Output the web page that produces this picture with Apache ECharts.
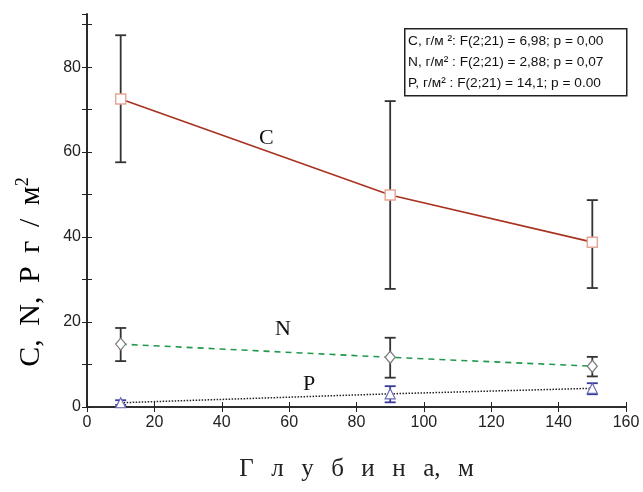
<!DOCTYPE html>
<html>
<head>
<meta charset="utf-8">
<script src="https://cdn.jsdelivr.net/npm/echarts@6/dist/echarts.min.js"></script>
<style>
  html, body { margin: 0; padding: 0; background: #fff; }
  #chart { width: 643px; height: 492px; }
</style>
</head>
<body>
<div id="chart"></div>
<script>
// depth, m
var depths = [10, 90, 150];

// C, N, P (g / m2): mean, lower and upper error bar ends
var cMean = [72.5, 49.9, 38.8];
var cLow = [57.6, 27.8, 28.0];
var cHigh = [87.5, 72.0, 48.7];

var nMean = [14.8, 11.7, 9.6];
var nLow = [10.8, 6.9, 7.2];
var nHigh = [18.6, 16.3, 11.8];

var pMean = [1.0, 3.1, 4.4];
var pLow = [0.5, 1.1, 3.0];
var pHigh = [1.6, 4.9, 5.6];

var yLabels = [0, 20, 40, 60, 80];

var legendLines = [
  'C, г/м ²: F(2;21) = 6,98; p = 0,00',
  'N, г/м² : F(2;21) = 2,88; p = 0,07',
  'P, г/м² : F(2;21) = 14,1; p = 0.00'
];

function pairs(xs, ys) {
  return xs.map(function (x, i) { return [x, ys[i]]; });
}
function bars(xs, lo, hi) {
  return xs.map(function (x, i) { return [x, lo[i], hi[i]]; });
}

function errorBar(color) {
  return function (params, api) {
    var top = api.coord([api.value(0), api.value(2)]);
    var bot = api.coord([api.value(0), api.value(1)]);
    var w = 5.5;
    var style = { stroke: color, lineWidth: 1.8 };
    return {
      type: 'group',
      children: [
        { type: 'line', shape: { x1: top[0], y1: top[1], x2: bot[0], y2: bot[1] }, style: style },
        { type: 'line', shape: { x1: top[0] - w, y1: top[1], x2: top[0] + w, y2: top[1] }, style: style },
        { type: 'line', shape: { x1: bot[0] - w, y1: bot[1], x2: bot[0] + w, y2: bot[1] }, style: style }
      ]
    };
  };
}

var tickFont = { fontFamily: 'Liberation Sans', fontSize: 16, color: '#222' };
var serif = 'Liberation Serif';
var frame = { show: true, lineStyle: { color: '#222', width: 1.6 } };
var ticks = { show: true, inside: true, length: 5, lineStyle: { color: '#222' } };

var chart = echarts.init(document.getElementById('chart'));
chart.setOption({
  animation: false,
  backgroundColor: '#fff',
  grid: { left: 87, right: 17, top: 14, bottom: 85 },
  xAxis: [{
    type: 'value',
    min: 0, max: 160, interval: 20,
    axisLine: frame,
    axisTick: ticks,
    axisLabel: Object.assign({ margin: 8 }, tickFont),
    splitLine: { show: false },
    name: ['Г', 'л', 'у', 'б', 'и', 'н', 'а,', 'м'].join('\u2002\u2009'),
    nameLocation: 'middle',
    nameGap: 50,
    nameTextStyle: { fontFamily: serif, fontSize: 25, color: '#222' }
  }, {
    type: 'value',
    position: 'top',
    min: 0, max: 160, interval: 20,
    axisLine: frame,
    axisTick: ticks,
    axisLabel: { show: false },
    splitLine: { show: false }
  }],
  yAxis: [{
    type: 'value',
    min: 0, max: 92.5, interval: 10,
    axisLine: frame,
    axisTick: ticks,
    axisLabel: Object.assign({
      margin: 6,
      showMaxLabel: false,
      formatter: function (v) { return yLabels.indexOf(v) >= 0 ? String(v) : ''; }
    }, tickFont),
    splitLine: { show: false }
  }, {
    type: 'value',
    position: 'right',
    min: 0, max: 92.5, interval: 10,
    axisLine: frame,
    axisTick: ticks,
    axisLabel: { show: false },
    splitLine: { show: false }
  }],
  series: [
    {
      type: 'line', name: 'C', data: pairs(depths, cMean), z: 3,
      lineStyle: { color: '#a8321f', width: 1.6 },
      symbol: 'rect', symbolSize: 10,
      itemStyle: { color: '#fff', borderColor: '#e3a897', borderWidth: 1.5 }
    },
    {
      type: 'line', name: 'N', data: pairs(depths, nMean), z: 3,
      lineStyle: { color: '#1e9a4a', width: 1.6, type: [6, 5] },
      symbol: 'diamond', symbolSize: [10, 12],
      itemStyle: { color: '#fff', borderColor: '#777', borderWidth: 1.2 }
    },
    {
      type: 'line', name: 'P', data: pairs(depths, pMean), z: 3,
      lineStyle: { color: '#222', width: 1.5, type: [1.5, 1.5] },
      symbol: 'triangle', symbolSize: [10, 10],
      itemStyle: { color: '#fff', borderColor: '#6a6ab0', borderWidth: 1.2 }
    },
    { type: 'custom', data: bars(depths, cLow, cHigh), renderItem: errorBar('#333'), z: 2 },
    { type: 'custom', data: bars(depths, nLow, nHigh), renderItem: errorBar('#333'), z: 2 },
    { type: 'custom', data: bars(depths, pLow, pHigh), renderItem: errorBar('#3a3a9a'), z: 2 }
  ],
  graphic: [
    {
      type: 'rect', left: 404, top: 28,
      shape: { width: 222, height: 67 },
      style: { fill: '#fff', stroke: '#222', lineWidth: 1.5 }, z: 10
    },
    {
      type: 'text', left: 408, top: 31, z: 11,
      style: {
        text: legendLines.join('\n'),
        font: '13.7px "Liberation Sans"', fill: '#111', lineHeight: 21
      }
    },
    { type: 'text', left: 259, top: 127, z: 11,
      style: { text: 'C', font: '22px "Liberation Serif"', fill: '#111' } },
    { type: 'text', left: 275, top: 318, z: 11,
      style: { text: 'N', font: '22px "Liberation Serif"', fill: '#111' } },
    { type: 'text', left: 303, top: 373, z: 11,
      style: { text: 'P', font: '22px "Liberation Serif"', fill: '#111' } },
    {
      type: 'text', x: 30, y: 272, rotation: Math.PI / 2, z: 11,
      style: {
        text: '{a|' + ['C,', 'N,', 'P', 'г', '/', 'м'].join(' \u2009') + '}{s|2}',
        align: 'center', verticalAlign: 'middle',
        rich: {
          a: { fontFamily: serif, fontSize: 30, color: '#222', lineHeight: 32, verticalAlign: 'bottom' },
          s: { fontFamily: serif, fontSize: 18, color: '#222', lineHeight: 32, verticalAlign: 'top', padding: [0, 0, 14, 0] }
        }
      }
    }
  ]
});
</script>
</body>
</html>
